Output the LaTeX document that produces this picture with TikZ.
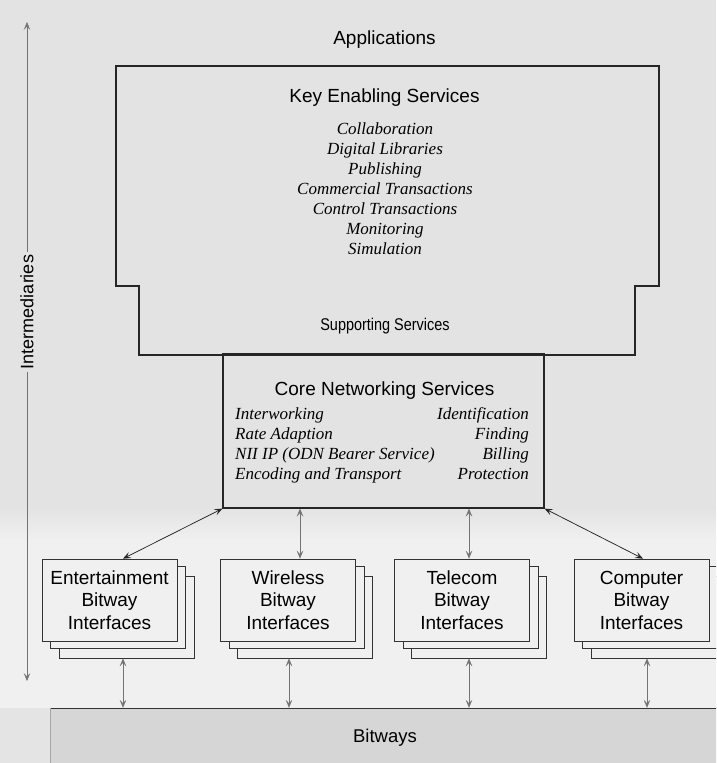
\documentclass[tikz,border=0pt]{standalone}
\usepackage{fontspec}
\setmainfont{Liberation Sans}
\newfontfamily\itemfont{Liberation Serif}
\newfontfamily\narrowsans[FakeStretch=0.85]{Liberation Sans}
\usetikzlibrary{arrows.meta,calc}

\definecolor{upperbg}{HTML}{E3E3E3}
\definecolor{lowerbg}{HTML}{F0F0F0}
\definecolor{bandbg}{HTML}{D6D6D6}
\definecolor{leftbg}{HTML}{E4E4E4}

\tikzset{
  tip/.tip={Stealth[length=8pt,width=6.5pt,inset=3.5pt]},
  heading/.style={font=\fontsize{19}{22}\selectfont, inner sep=1pt},
  itemtxt/.style={font=\itemfont\itshape\fontsize{17}{20}\selectfont, inner sep=0pt,
    text height=11pt, text depth=4pt, text=black},
  framed/.style={draw=black!85, line width=1.2pt, line join=miter},
  corebox/.style={framed, minimum width=321pt, minimum height=154pt, inner sep=0pt},
  stackbox/.style={draw=black!80, line width=0.7pt, fill=lowerbg,
    minimum width=135pt, minimum height=82pt, inner sep=0pt, align=center,
    font=\fontsize{19}{22.5}\selectfont},
  bandbox/.style={fill=bandbg, minimum width=670pt, minimum height=60pt, inner sep=0pt,
    font=\fontsize{18.5}{22}\selectfont},
  linkthick/.style={tip-tip, draw=black!85, line width=0.75pt},
  linkthin/.style={tip-tip, draw=black!55, line width=0.45pt},
  axisline/.style={-tip, draw=black!55, line width=0.5pt},
}

\begin{document}
\begin{tikzpicture}[x=1pt,y=-1pt]
  \useasboundingbox (0,0) rectangle (716,763);
  \clip (0,0) rectangle (716,763);

  % backgrounds: grey upper layer, light middle, textured bitway band
  \fill[upperbg] (0,0) rectangle (716,508);
  \shade[top color=upperbg, bottom color=lowerbg] (0,507) rectangle (716,540);
  \fill[lowerbg] (0,539) rectangle (716,708);
  \fill[leftbg] (0,708) rectangle (50,763);

  % top-level label
  \node[heading] (app) at (384.5,40) {Applications};

  % key enabling services frame with its stepped lower part
  \draw[framed] (116,66) -- (659,66) -- (659,286) -- (635,286) -- (635,355)
     -- (139,355) -- (139,286) -- (116,286) -- cycle;
  \node[heading] (kes) at (384.5,98) {Key Enabling Services};
  \node[itemtxt] (i1) at (385,131) {Collaboration};
  \node[itemtxt] (i2) at (385,151) {Digital Libraries};
  \node[itemtxt] (i3) at (385,171) {Publishing};
  \node[itemtxt] (i4) at (385,191) {Commercial Transactions};
  \node[itemtxt] (i5) at (385,211) {Control Transactions};
  \node[itemtxt] (i6) at (385,231) {Monitoring};
  \node[itemtxt] (i7) at (385,251) {Simulation};
  \node[font=\narrowsans\fontsize{17}{20}\selectfont] (sup) at (385,326) {Supporting Services};

  % core networking services
  \node[corebox] (core) at (383.5,431) {};
  \node[heading] (cns) at (384.5,391) {Core Networking Services};
  \node[itemtxt, anchor=west] (c1) at (235,416) {Interworking};
  \node[itemtxt, anchor=west] (c2) at (235,436) {Rate Adaption};
  \node[itemtxt, anchor=west] (c3) at (235,456) {NII IP (ODN Bearer Service)};
  \node[itemtxt, anchor=west] (c4) at (235,476) {Encoding and Transport};
  \node[itemtxt, anchor=east] (d1) at (529,416) {Identification};
  \node[itemtxt, anchor=east] (d2) at (529,436) {Finding};
  \node[itemtxt, anchor=east] (d3) at (529,456) {Billing};
  \node[itemtxt, anchor=east] (d4) at (529,476) {Protection};

  % stacked bitway interface boxes (back layers first)
  \foreach \nm/\cx/\lbl in {ent/109.5/Entertainment, wir/288/Wireless,
                            tel/462/Telecom, com/641.5/Computer} {
    \node[stackbox] (\nm3) at (\cx+17,617) {};
    \node[stackbox] (\nm2) at (\cx+8.5,607.5) {};
    \node[stackbox] (\nm) at (\cx,600) {\lbl\\Bitway\\Interfaces};
  }

  % bitways band
  \node[bandbox] (bit) at (385,738) {Bitways};
  \draw[black!80, line width=0.6pt] (bit.north west) -- (bit.north east);
  \draw[black!35, line width=0.5pt] (bit.north west) -- (bit.south west);

  % links between core services and the bitway interfaces
  \draw[linkthick] (core.south west) -- ([xshift=13.5pt]ent.north);
  \draw[linkthin] ([xshift=12pt]wir.north |- core.south) -- ([xshift=12pt]wir.north);
  \draw[linkthin] ([xshift=7pt]tel.north |- core.south) -- ([xshift=7pt]tel.north);
  \draw[linkthick] (core.south east) -- ([xshift=1.5pt]com.north);

  % links between the interfaces and the bitways
  \draw[linkthin] ([xshift=13.5pt]ent.center |- ent3.south) -- ([xshift=13.5pt]ent.center |- bit.north);
  \draw[linkthin] ([xshift=1pt]wir.center |- wir3.south) -- ([xshift=1pt]wir.center |- bit.north);
  \draw[linkthin] ([xshift=7pt]tel.center |- tel3.south) -- ([xshift=7pt]tel.center |- bit.north);
  \draw[linkthin] ([xshift=5.5pt]com.center |- com3.south) -- ([xshift=5.5pt]com.center |- bit.north);

  % vertical axis for the intermediaries layer
  \node[rotate=90, font=\fontsize{18}{21}\selectfont, inner sep=3pt] (inter) at (27,312) {Intermediaries};
  \coordinate (axtop) at (27,22);
  \coordinate (axbot) at (27,681);
  \draw[axisline] (inter.east) -- (axtop);
  \draw[axisline] (inter.west) -- (axbot);
\end{tikzpicture}
\end{document}
